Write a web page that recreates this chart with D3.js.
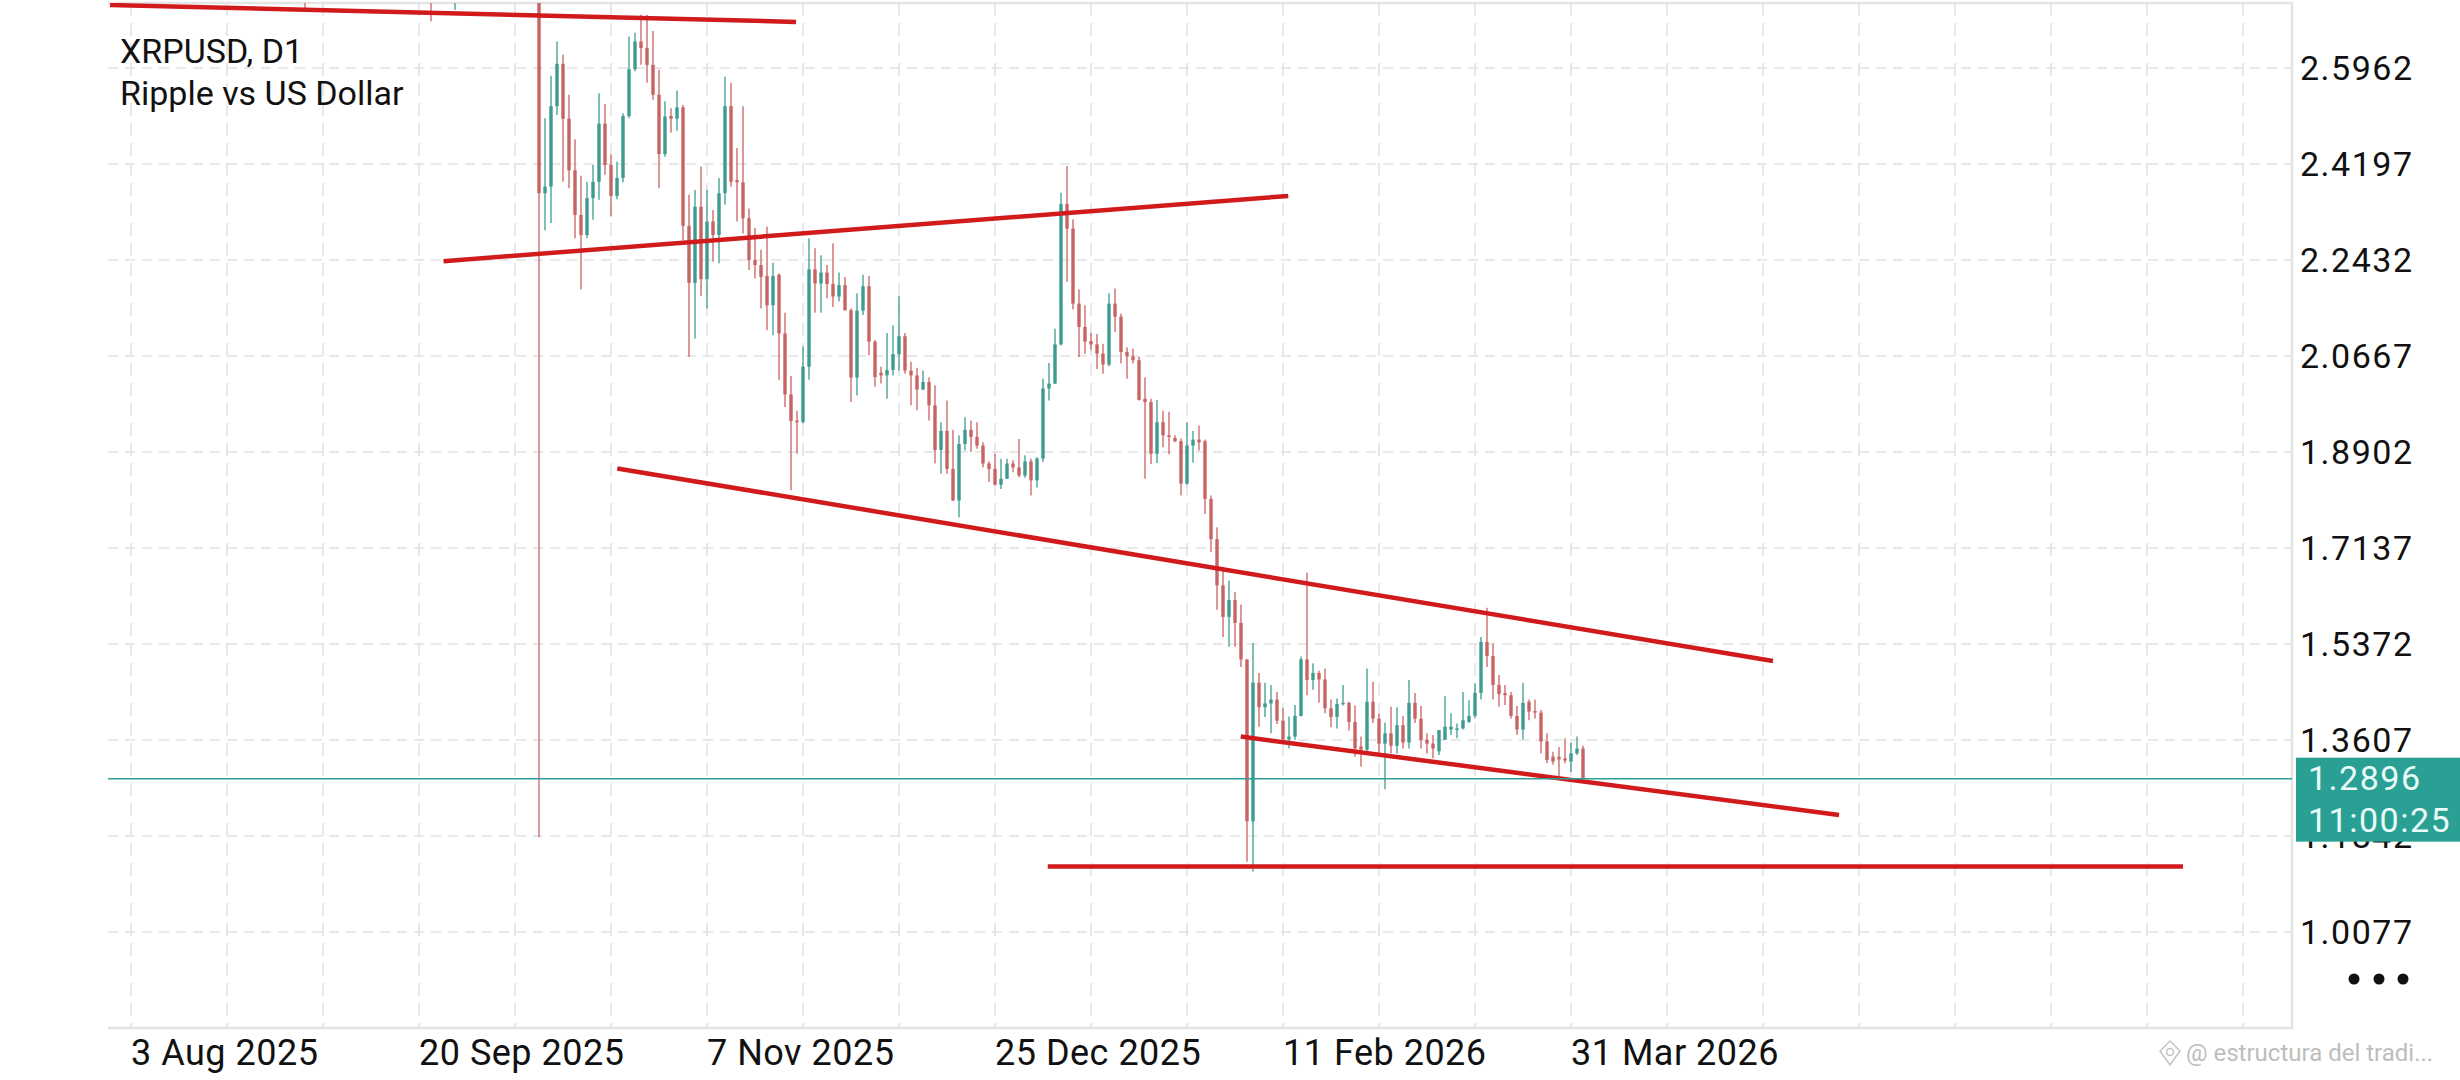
<!DOCTYPE html>
<html>
<head>
<meta charset="utf-8">
<script src="https://cdn.jsdelivr.net/npm/d3@7"></script>
<style>
  body { margin: 0; background: #fff; }
  text { font-family: Roboto, "Noto Sans", sans-serif; }
</style>
</head>
<body>
<div id="chart"></div>
<script>
// XRPUSD, D1 — daily candles
// one row per calendar day: [open, high, low, close]

var monthStarts = ["2025-09-01", "2025-10-01", "2025-11-01", "2025-12-01",
                   "2026-01-01", "2026-02-01", "2026-03-01", "2026-04-01"];

var sep2025 = [
  [2.80, 2.83, 2.706, 2.78], [2.78, 2.88, 2.75, 2.85], [2.85, 2.89, 2.80, 2.83], [2.83, 2.86, 2.77, 2.80],
  [2.80, 2.88, 2.78, 2.84], [2.84, 2.86, 2.80, 2.82], [2.82, 2.87, 2.80, 2.85], [2.85, 2.98, 2.84, 2.96],
  [2.96, 3.02, 2.92, 2.95], [2.95, 3.03, 2.93, 3.01], [3.01, 3.06, 2.98, 3.04], [3.04, 3.18, 3.02, 3.14],
  [3.14, 3.18, 3.08, 3.12], [3.12, 3.13, 3.00, 3.03], [3.03, 3.08, 2.95, 2.98], [2.98, 3.05, 2.96, 3.03],
  [3.03, 3.10, 2.98, 3.08], [3.08, 3.14, 3.02, 3.05], [3.05, 3.06, 2.96, 2.98], [2.98, 3.01, 2.96, 2.99],
  [2.99, 3.00, 2.87, 2.88], [2.88, 2.89, 2.682, 2.78], [2.78, 2.90, 2.77, 2.86], [2.86, 2.93, 2.82, 2.90],
  [2.90, 2.92, 2.74, 2.76], [2.76, 2.83, 2.703, 2.80], [2.80, 2.84, 2.78, 2.82], [2.82, 2.86, 2.79, 2.85],
  [2.85, 2.90, 2.81, 2.86], [2.86, 2.88, 2.78, 2.85]
];

var oct2025 = [
  [2.85, 3.00, 2.84, 2.98], [2.98, 3.08, 2.95, 3.02], [3.02, 3.10, 2.99, 3.03], [3.03, 3.04, 2.95, 2.97],
  [2.97, 3.05, 2.94, 2.99], [2.99, 3.02, 2.95, 2.98], [2.98, 3.00, 2.84, 2.86], [2.86, 2.90, 2.80, 2.85],
  [2.85, 2.86, 2.74, 2.80], [2.80, 2.85, 1.182, 2.366], [2.366, 2.504, 2.298, 2.378], [2.378, 2.582, 2.311, 2.526],
  [2.526, 2.645, 2.510, 2.604], [2.604, 2.621, 2.387, 2.503], [2.503, 2.547, 2.375, 2.408], [2.408, 2.465, 2.283, 2.326],
  [2.326, 2.398, 2.189, 2.289], [2.289, 2.387, 2.283, 2.357], [2.357, 2.418, 2.317, 2.387], [2.387, 2.550, 2.354, 2.494],
  [2.494, 2.530, 2.400, 2.418], [2.418, 2.437, 2.323, 2.361], [2.361, 2.424, 2.355, 2.394], [2.394, 2.513, 2.386, 2.508],
  [2.508, 2.654, 2.504, 2.594], [2.594, 2.661, 2.590, 2.645], [2.645, 2.694, 2.602, 2.633], [2.633, 2.694, 2.569, 2.602],
  [2.602, 2.664, 2.538, 2.547], [2.547, 2.593, 2.375, 2.438], [2.438, 2.535, 2.433, 2.507]
];

var nov2025 = [
  [2.508, 2.522, 2.477, 2.503], [2.503, 2.555, 2.481, 2.524], [2.524, 2.528, 2.280, 2.306], [2.306, 2.363, 2.065, 2.201],
  [2.201, 2.372, 2.099, 2.341], [2.341, 2.415, 2.177, 2.208], [2.208, 2.372, 2.154, 2.314], [2.314, 2.335, 2.240, 2.289],
  [2.289, 2.394, 2.237, 2.366], [2.366, 2.580, 2.345, 2.526], [2.526, 2.569, 2.378, 2.387], [2.390, 2.449, 2.314, 2.386],
  [2.386, 2.526, 2.292, 2.320], [2.320, 2.338, 2.225, 2.243], [2.243, 2.302, 2.209, 2.234], [2.234, 2.262, 2.154, 2.212],
  [2.214, 2.305, 2.114, 2.160], [2.160, 2.238, 2.105, 2.214], [2.216, 2.219, 2.023, 2.108], [2.108, 2.146, 1.973, 1.996],
  [1.996, 2.030, 1.820, 1.947], [1.948, 1.966, 1.887, 1.945], [1.945, 2.084, 1.943, 2.047], [2.047, 2.283, 2.023, 2.226],
  [2.226, 2.265, 2.146, 2.200], [2.200, 2.252, 2.146, 2.220], [2.220, 2.234, 2.173, 2.199], [2.199, 2.274, 2.157, 2.176],
  [2.176, 2.220, 2.167, 2.197], [2.197, 2.212, 2.150, 2.151]
];

var dec2025 = [
  [2.151, 2.154, 1.982, 2.027], [2.027, 2.182, 1.994, 2.150], [2.150, 2.216, 2.142, 2.195], [2.195, 2.214, 2.068, 2.093],
  [2.093, 2.096, 2.010, 2.028], [2.036, 2.047, 2.016, 2.031], [2.031, 2.109, 1.988, 2.041], [2.041, 2.123, 2.031, 2.070],
  [2.070, 2.177, 2.040, 2.103], [2.103, 2.109, 2.034, 2.040], [2.040, 2.056, 1.976, 2.031], [2.031, 2.045, 1.967, 2.005],
  [2.005, 2.040, 2.004, 2.019], [2.019, 2.027, 1.948, 1.976], [1.976, 2.013, 1.869, 1.894], [1.894, 1.945, 1.850, 1.929],
  [1.929, 1.985, 1.850, 1.859], [1.859, 1.931, 1.800, 1.801], [1.801, 1.921, 1.770, 1.905], [1.905, 1.954, 1.893, 1.931],
  [1.931, 1.948, 1.890, 1.918], [1.918, 1.945, 1.896, 1.902], [1.902, 1.908, 1.862, 1.869], [1.869, 1.873, 1.835, 1.859],
  [1.859, 1.887, 1.829, 1.830], [1.830, 1.878, 1.822, 1.841], [1.841, 1.878, 1.841, 1.869], [1.869, 1.875, 1.853, 1.862],
  [1.862, 1.914, 1.844, 1.847], [1.847, 1.884, 1.843, 1.873], [1.873, 1.878, 1.810, 1.838]
];

var jan2026 = [
  [1.838, 1.881, 1.825, 1.878], [1.878, 2.025, 1.872, 2.007], [2.007, 2.054, 1.985, 2.016], [2.016, 2.117, 2.015, 2.088],
  [2.088, 2.367, 2.086, 2.346], [2.346, 2.416, 2.203, 2.301], [2.301, 2.318, 2.152, 2.163], [2.163, 2.189, 2.065, 2.120],
  [2.120, 2.160, 2.071, 2.093], [2.094, 2.109, 2.078, 2.088], [2.088, 2.107, 2.043, 2.071], [2.071, 2.089, 2.034, 2.051],
  [2.051, 2.182, 2.048, 2.163], [2.163, 2.191, 2.111, 2.139], [2.139, 2.145, 2.053, 2.074], [2.074, 2.083, 2.025, 2.066],
  [2.066, 2.080, 2.053, 2.059], [2.059, 2.066, 1.985, 1.986], [1.988, 2.027, 1.841, 1.982], [1.982, 1.988, 1.868, 1.887],
  [1.887, 1.986, 1.870, 1.945], [1.945, 1.966, 1.899, 1.921], [1.921, 1.964, 1.886, 1.918], [1.916, 1.921, 1.908, 1.910],
  [1.910, 1.915, 1.810, 1.832], [1.832, 1.945, 1.830, 1.902], [1.902, 1.929, 1.871, 1.913], [1.913, 1.939, 1.893, 1.908],
  [1.910, 1.913, 1.776, 1.804], [1.804, 1.810, 1.706, 1.730], [1.730, 1.752, 1.600, 1.645]
];

var feb2026 = [
  [1.645, 1.679, 1.550, 1.587], [1.587, 1.654, 1.532, 1.618], [1.618, 1.633, 1.532, 1.576], [1.576, 1.610, 1.495, 1.509],
  [1.509, 1.509, 1.137, 1.211], [1.211, 1.539, 1.119, 1.466], [1.466, 1.484, 1.385, 1.421], [1.421, 1.466, 1.403, 1.428],
  [1.428, 1.462, 1.373, 1.435], [1.435, 1.449, 1.390, 1.396], [1.396, 1.419, 1.354, 1.362], [1.362, 1.404, 1.345, 1.367],
  [1.367, 1.425, 1.361, 1.405], [1.405, 1.514, 1.404, 1.509], [1.509, 1.668, 1.443, 1.471], [1.471, 1.502, 1.453, 1.484],
  [1.484, 1.488, 1.429, 1.472], [1.472, 1.492, 1.410, 1.419], [1.419, 1.435, 1.384, 1.403], [1.403, 1.437, 1.382, 1.427],
  [1.427, 1.462, 1.424, 1.429], [1.429, 1.431, 1.378, 1.394], [1.394, 1.424, 1.330, 1.345], [1.349, 1.367, 1.312, 1.343],
  [1.343, 1.492, 1.339, 1.431], [1.431, 1.468, 1.392, 1.400], [1.400, 1.409, 1.333, 1.354], [1.354, 1.393, 1.270, 1.373]
];

var mar2026 = [
  [1.373, 1.422, 1.336, 1.350], [1.350, 1.421, 1.336, 1.388], [1.388, 1.405, 1.345, 1.356], [1.356, 1.471, 1.345, 1.429],
  [1.429, 1.447, 1.392, 1.400], [1.400, 1.423, 1.345, 1.361], [1.361, 1.373, 1.336, 1.354], [1.354, 1.370, 1.327, 1.345],
  [1.340, 1.379, 1.333, 1.379], [1.361, 1.441, 1.361, 1.385], [1.380, 1.410, 1.370, 1.385], [1.382, 1.391, 1.364, 1.382],
  [1.382, 1.449, 1.380, 1.397], [1.394, 1.434, 1.392, 1.405], [1.405, 1.465, 1.400, 1.447], [1.447, 1.550, 1.435, 1.541],
  [1.541, 1.604, 1.495, 1.515], [1.515, 1.538, 1.435, 1.462], [1.462, 1.480, 1.422, 1.445], [1.447, 1.462, 1.425, 1.443],
  [1.443, 1.449, 1.400, 1.405], [1.405, 1.423, 1.370, 1.380], [1.380, 1.466, 1.362, 1.429], [1.431, 1.435, 1.397, 1.413],
  [1.414, 1.435, 1.400, 1.411], [1.411, 1.416, 1.336, 1.358], [1.358, 1.373, 1.318, 1.324], [1.330, 1.339, 1.315, 1.321],
  [1.330, 1.348, 1.293, 1.325], [1.327, 1.364, 1.318, 1.323], [1.321, 1.356, 1.302, 1.336]
];

var apr2026 = [
  [1.336, 1.367, 1.333, 1.345], [1.345, 1.350, 1.2896, 1.2896]
];

var months = [sep2025, oct2025, nov2025, dec2025, jan2026, feb2026, mar2026, apr2026];

// right axis
var priceTicks = [2.5962, 2.4197, 2.2432, 2.0667, 1.8902, 1.7137, 1.5372, 1.3607, 1.1842, 1.0077];
var lastPrice = 1.2896;
var countdown = "11:00:25";

// bottom axis
var dateTicks = ["2025-08-03", "2025-09-20", "2025-11-07", "2025-12-25", "2026-02-11", "2026-03-31"];
var dateTickLabels = ["3 Aug 2025", "20 Sep 2025", "7 Nov 2025", "25 Dec 2025", "11 Feb 2026", "31 Mar 2026"];
var gridStart = "2025-08-03";
var gridStepDays = 16;

// hand drawn lines: [from time, from price, to time, to price]
var trendLines = [
  ["2025-07-30 12:00", 2.712, "2025-11-21 20:00", 2.681],
  ["2025-09-24 02:00", 2.241, "2026-02-11 21:00", 2.361],
  ["2025-10-23 01:00", 1.860, "2026-05-03 16:00", 1.506],
  ["2026-02-03 23:00", 1.367, "2026-05-14 16:00", 1.223],
  ["2026-01-02 19:00", 1.128, "2026-07-11 00:00", 1.128]
];

var svgWidth = 2460;
var svgHeight = 1080;

var plot = { left: 108, top: 3, right: 2292, bottom: 1028 };

var parseDay = d3.utcParse("%Y-%m-%d");
var parseTime = d3.utcParse("%Y-%m-%d %H:%M");

var svg = d3.select("#chart")
  .append("svg")
  .attr("width", svgWidth)
  .attr("height", svgHeight)
  .style("display", "block");

// scales: one candle every 6px, 2.5962 .. 1.0077 over 864px
var xScale = d3.scaleUtc()
  .domain([parseDay("2025-08-03"), parseDay("2026-03-31")])
  .range([131, 1571]);

var yScale = d3.scaleLinear()
  .domain([1.0077, 2.5962])
  .range([932, 68]);

// build candle rows
var candles = [];
months.forEach(function(rows, i) {
  var start = parseDay(monthStarts[i]);
  rows.forEach(function(r, j) {
    candles.push({ date: d3.utcDay.offset(start, j), open: r[0], high: r[1], low: r[2], close: r[3] });
  });
});

svg.append("defs").append("clipPath")
  .attr("id", "plotClip")
  .append("rect")
  .attr("x", plot.left)
  .attr("y", plot.top)
  .attr("width", plot.right - plot.left)
  .attr("height", plot.bottom - plot.top);

// grid
var gridDates = d3.range(0, 30)
  .map(function(k) { return d3.utcDay.offset(parseDay(gridStart), k * gridStepDays); })
  .filter(function(d) { return xScale(d) < plot.right - 10; });

var grid = svg.append("g").attr("class", "grid");

grid.selectAll("line.v")
  .data(gridDates)
  .enter()
  .append("line")
  .attr("x1", function(d) { return xScale(d); })
  .attr("x2", function(d) { return xScale(d); })
  .attr("y1", plot.top)
  .attr("y2", plot.bottom)
  .attr("stroke", "#e2e2e2")
  .attr("stroke-width", 1.6)
  .attr("stroke-dasharray", "13,7");

grid.selectAll("line.h")
  .data(priceTicks)
  .enter()
  .append("line")
  .attr("x1", plot.left)
  .attr("x2", plot.right)
  .attr("y1", function(d) { return yScale(d); })
  .attr("y2", function(d) { return yScale(d); })
  .attr("stroke", "#e2e2e2")
  .attr("stroke-width", 1.6)
  .attr("stroke-dasharray", "10,7");

// frame (top, right, bottom)
svg.append("path")
  .attr("d", "M" + plot.left + "," + plot.top + "H" + plot.right + "V" + plot.bottom + "H" + plot.left)
  .attr("fill", "none")
  .attr("stroke", "#e4e4e4")
  .attr("stroke-width", 2.5);

// candles
var bull = "#3d9b90";
var bear = "#c76361";
var candleGroup = svg.append("g").attr("clip-path", "url(#plotClip)");

var candle = candleGroup.selectAll("g.candle")
  .data(candles)
  .enter()
  .append("g")
  .attr("class", "candle");

candle.append("line")
  .attr("x1", function(d) { return xScale(d.date); })
  .attr("x2", function(d) { return xScale(d.date); })
  .attr("y1", function(d) { return yScale(d.high); })
  .attr("y2", function(d) { return yScale(d.low); })
  .attr("stroke", function(d) { return d.close >= d.open ? bull : bear; })
  .attr("stroke-width", 1.3);

candle.append("rect")
  .attr("x", function(d) { return xScale(d.date) - 1.7; })
  .attr("y", function(d) { return yScale(Math.max(d.open, d.close)); })
  .attr("width", 3.4)
  .attr("height", function(d) {
    return Math.max(1.5, Math.abs(yScale(d.open) - yScale(d.close)));
  })
  .attr("fill", function(d) { return d.close >= d.open ? bull : bear; });

// red analysis lines
svg.append("g")
  .attr("clip-path", "url(#plotClip)")
  .selectAll("line")
  .data(trendLines)
  .enter()
  .append("line")
  .attr("x1", function(d) { return xScale(parseTime(d[0])); })
  .attr("y1", function(d) { return yScale(d[1]); })
  .attr("x2", function(d) { return xScale(parseTime(d[2])); })
  .attr("y2", function(d) { return yScale(d[3]); })
  .attr("stroke", "#d01a1c")
  .attr("stroke-width", 4.5);

// current price line
svg.append("line")
  .attr("x1", plot.left)
  .attr("x2", plot.right)
  .attr("y1", yScale(lastPrice))
  .attr("y2", yScale(lastPrice))
  .attr("stroke", "#2f9e93")
  .attr("stroke-width", 1.5);

// price labels
svg.append("g")
  .selectAll("text")
  .data(priceTicks)
  .enter()
  .append("text")
  .attr("x", 2300)
  .attr("y", function(d) { return yScale(d) + 12; })
  .attr("font-size", 34)
  .attr("letter-spacing", 1.5)
  .attr("fill", "#111")
  .text(function(d) { return d.toFixed(4); });

// last price tag
var tagY = yScale(lastPrice);
svg.append("rect")
  .attr("x", 2296)
  .attr("y", tagY - 21)
  .attr("width", svgWidth - 2296)
  .attr("height", 84)
  .attr("fill", "#2aa095");

svg.append("text")
  .attr("x", 2308)
  .attr("y", tagY + 11)
  .attr("font-size", 34)
  .attr("letter-spacing", 1.5)
  .attr("fill", "#e8fbf8")
  .text(lastPrice.toFixed(4));

svg.append("text")
  .attr("x", 2308)
  .attr("y", tagY + 53)
  .attr("font-size", 34)
  .attr("letter-spacing", 1.5)
  .attr("fill", "#e8fbf8")
  .text(countdown);

// date labels
svg.append("g")
  .selectAll("text")
  .data(dateTicks)
  .enter()
  .append("text")
  .attr("x", function(d) { return xScale(parseDay(d)); })
  .attr("y", 1065)
  .attr("font-size", 36)
  .attr("letter-spacing", 0.5)
  .attr("fill", "#111")
  .text(function(d, i) { return dateTickLabels[i]; });

// title
svg.append("text")
  .attr("x", 120)
  .attr("y", 63)
  .attr("font-size", 34)
  .attr("fill", "#111")
  .text("XRPUSD, D1");

svg.append("text")
  .attr("x", 120)
  .attr("y", 105)
  .attr("font-size", 34)
  .attr("fill", "#111")
  .text("Ripple vs US Dollar");

// menu dots
svg.append("g")
  .selectAll("circle")
  .data([2354, 2379, 2403])
  .enter()
  .append("circle")
  .attr("cx", function(d) { return d; })
  .attr("cy", 979)
  .attr("r", 5.5)
  .attr("fill", "#111");

// watermark
var wm = svg.append("g").attr("fill", "none").attr("stroke", "#c4c4c4").attr("stroke-width", 1.5);
wm.append("path").attr("d", "M2170,1041 L2180,1051 L2170,1065 L2160,1051 Z");
wm.append("circle").attr("cx", 2170).attr("cy", 1052).attr("r", 3.5);

svg.append("text")
  .attr("x", 2186)
  .attr("y", 1061)
  .attr("font-size", 24)
  .attr("fill", "#bdbdbd")
  .text("@ estructura del tradi...");
</script>
</body>
</html>
